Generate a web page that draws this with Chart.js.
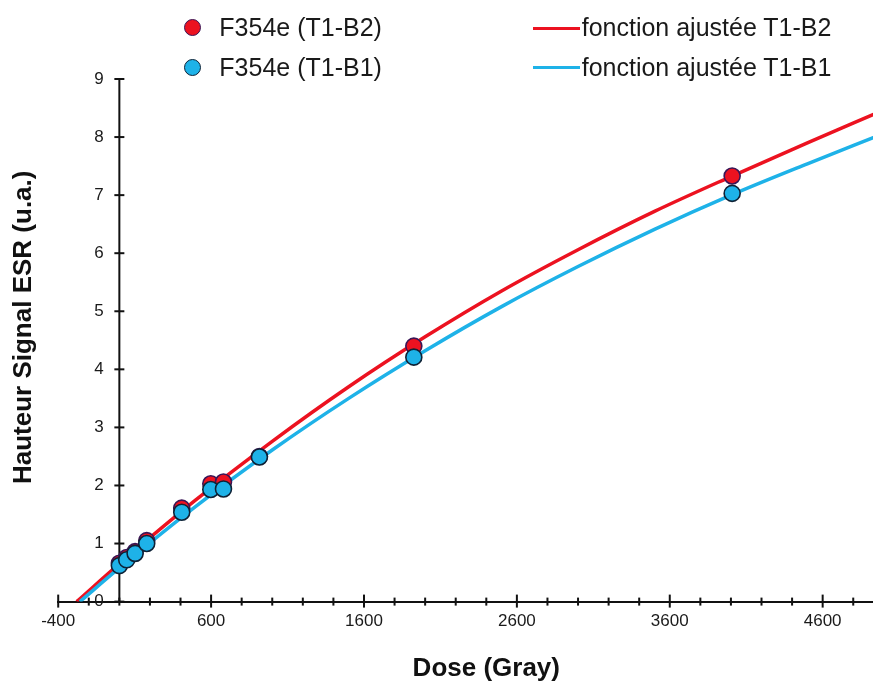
<!DOCTYPE html>
<html><head><meta charset="utf-8">
<script src="https://cdn.jsdelivr.net/npm/chart.js@4.4.1/dist/chart.umd.min.js"></script>
<style>
html,body{margin:0;padding:0;background:#fff;overflow:hidden}
#wrap{position:relative;width:873px;height:682px;overflow:hidden;background:#fff}
#c{position:absolute;left:0;top:0}
.lg{position:absolute;font-family:"Liberation Sans",Arial,sans-serif;font-size:25px;line-height:25px;color:#1a1a1a;white-space:nowrap}
.dot{position:absolute;width:15px;height:15px;border-radius:50%;border:1.5px solid}
.ln{position:absolute;height:3px;width:47px}
</style></head>
<body>
<div id="wrap"><canvas id="c" width="924" height="682"></canvas><div id="legend"></div></div>
<script>
// ---- data ----
const doses    = [0, 48, 103, 179, 408, 598, 681, 916, 1926, 4008];
const signalB2 = [0.66, 0.76, 0.86, 1.05, 1.61, 2.03, 2.06, 2.50, 4.40, 7.33];
const signalB1 = [0.62, 0.72, 0.83, 1.00, 1.54, 1.93, 1.94, 2.49, 4.21, 7.03];
const fitDoseB2 = [-279, 0, 500, 1000, 1500, 2000, 2500, 3000, 3500, 4000, 4500, 4960];
const fitB2     = [0, 0.65, 1.75, 2.76, 3.70, 4.56, 5.35, 6.06, 6.72, 7.32, 7.90, 8.42];
const fitDoseB1 = [-258, 0, 500, 1000, 1500, 2000, 2500, 3000, 3500, 4000, 4500, 4960];
const fitB1     = [0, 0.58, 1.64, 2.61, 3.50, 4.32, 5.08, 5.77, 6.41, 7.00, 7.54, 8.02];
const xTickLabels = ['-400', '600', '1600', '2600', '3600', '4600'];
const yTickLabels = ['0', '1', '2', '3', '4', '5', '6', '7', '8', '9'];
const seriesNames = ['F354e (T1-B2)', 'F354e (T1-B1)', 'fonction ajustée T1-B2', 'fonction ajustée T1-B1'];
const xTitle = 'Dose (Gray)';
const yTitle = 'Hauteur Signal ESR (u.a.)';

const RED = '#ec1220', BLUE = '#1eb2e8';
const RED_EDGE = '#3a1656', BLUE_EDGE = '#0e2236';
const FONT = '"Liberation Sans", Arial, sans-serif';

const pts = (xs, ys) => xs.map((x, i) => ({x, y: ys[i]}));

const axesPlugin = {
  id: 'crossAxes',
  afterLayout(chart) {
    // centre the rotated y title a little higher, as in the reference
    const s = chart.scales.yTitle;
    s.top -= 26;
  },
  beforeDatasetsDraw(chart) {
    const {ctx, scales: {x, y}} = chart;
    const y0 = y.getPixelForValue(0);
    const x0 = x.getPixelForValue(0);
    ctx.save();
    ctx.strokeStyle = '#111';
    ctx.lineWidth = 2;
    // y axis line at dose 0
    ctx.beginPath();
    ctx.moveTo(x0, y.getPixelForValue(y.max));
    ctx.lineTo(x0, y0);
    ctx.stroke();
    x.ticks.forEach(t => {
      const px = x.getPixelForValue(t.value);
      const major = ((t.value + 400) % 1000 === 0);
      ctx.beginPath();
      ctx.moveTo(px, y0 - (major ? 7 : 4));
      ctx.lineTo(px, y0 + (major ? 6 : 4));
      ctx.stroke();
    });
    y.ticks.forEach(t => {
      const py = y.getPixelForValue(t.value);
      ctx.beginPath();
      ctx.moveTo(x0 - 5, py);
      ctx.lineTo(x0 + 5, py);
      ctx.stroke();
    });
    ctx.restore();
  }
};

new Chart(document.getElementById('c'), {
  type: 'scatter',
  data: {
    datasets: [
      { label: seriesNames[2], data: pts(fitDoseB2, fitB2), showLine: true, pointRadius: 0,
        borderColor: RED, borderWidth: 3.5, cubicInterpolationMode: 'monotone', order: 4 },
      { label: seriesNames[3], data: pts(fitDoseB1, fitB1), showLine: true, pointRadius: 0,
        borderColor: BLUE, borderWidth: 3.5, cubicInterpolationMode: 'monotone', order: 3 },
      { label: seriesNames[0], data: pts(doses, signalB2), pointRadius: 8, pointBorderWidth: 1.6,
        backgroundColor: RED, borderColor: RED_EDGE, order: 2 },
      { label: seriesNames[1], data: pts(doses, signalB1), pointRadius: 8, pointBorderWidth: 1.6,
        backgroundColor: BLUE, borderColor: BLUE_EDGE, order: 1 }
    ]
  },
  options: {
    responsive: false, animation: false, devicePixelRatio: 1,
    layout: { padding: { top: 79, left: 0, right: 0, bottom: 0 } },
    plugins: { legend: { display: false }, tooltip: { enabled: false } },
    scales: {
      x: {
        type: 'linear', position: 'bottom', min: -400, max: 5200,
        grid: { display: true, drawOnChartArea: false, drawTicks: true, tickLength: 6, tickColor: 'rgba(0,0,0,0)' },
        border: { display: true, color: '#111', width: 2 },
        ticks: { stepSize: 200, autoSkip: false, maxRotation: 0, includeBounds: false, padding: 4,
          color: '#1a1a1a', font: { family: FONT, size: 17 },
          callback: v => xTickLabels.includes(String(v)) ? String(v) : '' },
        title: { display: true, text: xTitle, color: '#111',
          font: { family: FONT, size: 26, weight: 'bold', lineHeight: 1 }, padding: { top: 20, bottom: 0 } }
      },
      y: {
        type: 'linear', position: { x: -103 }, min: 0, max: 9,
        grid: { display: false, drawTicks: false },
        border: { display: false },
        ticks: { stepSize: 1, padding: 0, color: '#1a1a1a', font: { family: FONT, size: 17 },
          callback: v => yTickLabels[v] !== undefined ? yTickLabels[v] : '' }
      },
      yTitle: {
        type: 'linear', position: 'left', min: 0, max: 9, display: true,
        grid: { display: false, drawTicks: false }, border: { display: false },
        ticks: { display: false },
        title: { display: true, text: yTitle, color: '#111',
          font: { family: FONT, size: 26, weight: 'bold', lineHeight: 1.2 }, padding: { top: 8, bottom: 19 } }
      }
    }
  },
  plugins: [axesPlugin]
});

// HTML legend (two columns, as in the reference)
const lg = document.getElementById('legend');
const rows = [
  { dotFill: RED, dotEdge: RED_EDGE, text: seriesNames[0], line: RED, lineText: seriesNames[2] },
  { dotFill: BLUE, dotEdge: BLUE_EDGE, text: seriesNames[1], line: BLUE, lineText: seriesNames[3] }
];
rows.forEach((r, i) => {
  const cy = 28.3 + i * 39.2;
  lg.insertAdjacentHTML('beforeend',
    `<div class="dot" style="left:183.7px;top:${cy - 9}px;background:${r.dotFill};border-color:${r.dotEdge}"></div>` +
    `<div class="lg" style="left:219.3px;top:${cy - 13}px">${r.text}</div>` +
    `<div class="ln" style="left:532.7px;top:${cy - 1.5}px;background:${r.line}"></div>` +
    `<div class="lg" style="left:581.7px;top:${cy - 13}px">${r.lineText}</div>`);
});
</script>
</body></html>
